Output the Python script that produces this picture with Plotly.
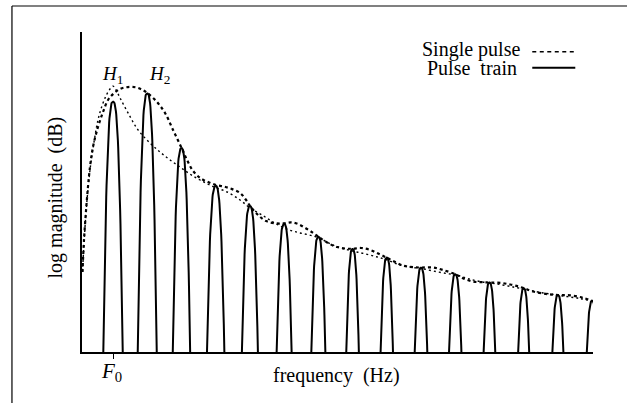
import plotly.graph_objects as go
import numpy as np

# ---- data (harmonic number units, F0 = 1; level in relative dB) ----
harmonics = [1, 2, 3, 4, 5, 6, 7, 8, 9, 10, 11, 12, 13, 14, 15]
harmonic_peaks = [78.2, 80.8, 63.7, 51.9, 45.6, 40.0, 36.0, 32.2, 29.5, 26.3, 24.3, 21.7, 19.9, 17.8, 16.0]
lobe_halfwidths = [0.284, 0.278, 0.254, 0.254, 0.234, 0.219, 0.205, 0.184, 0.181, 0.184, 0.181, 0.170, 0.161, 0.161, 0.155]

envelope_x = [0.108, 0.152, 0.240, 0.327, 0.415, 0.561, 0.708, 0.854, 1.0, 1.205, 1.439, 1.673, 1.848, 2.009,
              2.287, 2.520, 2.754, 3.003, 3.164, 3.339, 3.544, 3.778, 4.012, 4.246, 4.480, 4.713, 4.889, 5.006,
              5.240, 5.474, 5.766, 6.0, 6.205, 6.409, 6.643, 6.848, 6.994, 7.257, 7.55, 7.813, 8.018, 8.251,
              8.515, 8.778, 9.012, 9.246, 9.509, 9.772, 10.006, 10.357, 10.649, 11.029, 11.234, 11.526, 11.819,
              12.023, 12.316, 12.608, 12.842, 13.018, 13.281, 13.690, 14.012, 14.363, 14.743, 15.026]
envelope_y = [25.0, 35.0, 48.1, 57.8, 64.1, 70.3, 75.0, 78.75, 80.6, 82.2, 82.8, 82.7, 82.0, 80.9,
              78.1, 74.7, 69.4, 63.75, 60.0, 56.6, 54.4, 53.1, 52.2, 51.7, 50.9, 49.7, 47.5, 45.6,
              42.8, 40.9, 40.2, 40.2, 40.5, 40.0, 38.6, 37.2, 36.1, 34.2, 32.8, 32.3, 32.3, 32.5,
              31.9, 30.6, 29.4, 28.1, 26.9, 26.5, 26.4, 26.4, 25.6, 24.2, 23.0, 22.0, 21.8,
              21.7, 21.6, 21.1, 20.5, 19.9, 18.9, 18.1, 17.8, 17.7, 16.9, 15.8]

single_x = [0.108, 0.167, 0.240, 0.327, 0.444, 0.561, 0.678, 0.795, 0.912, 1.0, 1.088, 1.205, 1.439, 1.731,
            2.082, 2.374, 2.667, 2.959, 3.251, 3.544, 3.924, 4.333, 4.713, 5.006, 5.357, 5.678, 6.079,
            6.468, 6.848, 7.140, 7.433, 7.930, 8.310, 8.719, 9.012, 9.392, 9.772, 10.006, 10.357, 10.766,
            11.029, 11.351, 11.731, 12.228, 12.696, 13.105, 13.485, 13.865, 14.275, 14.655, 15.026]
single_y = [25.0, 36.6, 47.5, 56.9, 65.6, 72.5, 76.9, 80.0, 82.2, 83.1, 81.9, 79.4, 74.7, 69.4,
            65.3, 62.5, 60.0, 57.8, 55.6, 53.75, 51.7, 50.0, 47.5, 45.0, 42.8, 40.6, 38.4,
            37.2, 36.25, 35.0, 33.4, 31.7, 30.8, 29.7, 28.75, 27.2, 26.4, 26.1, 25.3, 24.5,
            24.1, 23.0, 22.0, 21.25, 20.3, 19.5, 18.6, 18.0, 17.3, 16.7, 15.8]

x_range = [0.0936, 15.026]
y_range = [0, 100]

# ---- build harmonic lobes ----
lx, ly = [], []
for h, p, w in zip(harmonics, harmonic_peaks, lobe_halfwidths):
    u = np.linspace(-1, 1, 61)
    lx += list(h + u * w) + [None]
    ly += list(p * (1 - np.abs(u) ** 2.7)) + [None]

fig = go.Figure()
fig.add_trace(go.Scatter(x=lx, y=ly, mode="lines", line=dict(color="black", width=2),
                         showlegend=False, hoverinfo="skip"))
fig.add_trace(go.Scatter(x=single_x, y=single_y, mode="lines", line_shape="spline",
                         line=dict(color="black", width=1.4, dash="2px,3px"),
                         showlegend=False, hoverinfo="skip"))
fig.add_trace(go.Scatter(x=envelope_x, y=envelope_y, mode="lines", line_shape="spline",
                         line=dict(color="black", width=2.2, dash="3px,3px"),
                         showlegend=False, hoverinfo="skip"))

W, H = 627, 403
L, R, T, B = 82, 34.3, 32, 51
pw, ph = W - L - R, H - T - B


def px(x):
    return (x - L) / pw


def py(y):
    return (H - B - y) / ph


serif = "Liberation Serif, Times New Roman, serif"
ann = []


def text(x, y, s, size=20, xanchor="center", yanchor="middle"):
    ann.append(dict(x=px(x), y=py(y), xref="paper", yref="paper", text=s, showarrow=False,
                    xanchor=xanchor, yanchor=yanchor, font=dict(family=serif, size=size, color="black")))


text(336, 375, "frequency\u00a0 (Hz)")
text(111.5, 372, "<i>F</i><sub>0</sub>", size=21)
text(112, 75, "<i>H</i><sub>1</sub>", size=19)
text(159, 75, "<i>H</i><sub>2</sub>", size=19)
text(522, 49.5, "Single pulse", xanchor="right")
text(519, 68.5, "Pulse\u00a0 train", xanchor="right")
ann.append(dict(x=px(42), y=py(197), xref="paper", yref="paper", text="log magnitude\u00a0 (dB)",
                showarrow=False, textangle=-90, font=dict(family=serif, size=20, color="black")))

shapes = [
    dict(type="line", xref="paper", yref="paper", x0=px(12), x1=px(627), y0=py(6), y1=py(6),
         line=dict(color="#808080", width=2)),
    dict(type="line", xref="paper", yref="paper", x0=px(12), x1=px(12), y0=py(6), y1=py(403),
         line=dict(color="black", width=1.2)),
    dict(type="line", xref="paper", yref="paper", x0=px(532), x1=px(575), y0=py(51.7), y1=py(51.7),
         line=dict(color="black", width=1.5, dash="4px,3.5px")),
    dict(type="line", xref="paper", yref="paper", x0=px(532), x1=px(575), y0=py(67.7), y1=py(67.7),
         line=dict(color="black", width=2)),
]

fig.update_layout(
    width=W, height=H, autosize=False,
    margin=dict(l=L, r=R, t=T, b=B, pad=0),
    paper_bgcolor="white", plot_bgcolor="white",
    annotations=ann, shapes=shapes, showlegend=False,
    xaxis=dict(range=x_range, showline=True, linecolor="black", linewidth=2, showgrid=False,
               zeroline=False, ticks="outside", ticklen=5, tickwidth=1, tickcolor="black",
               tickvals=[1], ticktext=[""], fixedrange=True),
    yaxis=dict(range=y_range, showline=True, linecolor="black", linewidth=2, showgrid=False,
               zeroline=False, showticklabels=False, ticks="", fixedrange=True),
)

fig.write_html("out.html", config={"displayModeBar": False},
               post_script="document.body.style.margin='0';document.body.style.overflow='hidden';")
